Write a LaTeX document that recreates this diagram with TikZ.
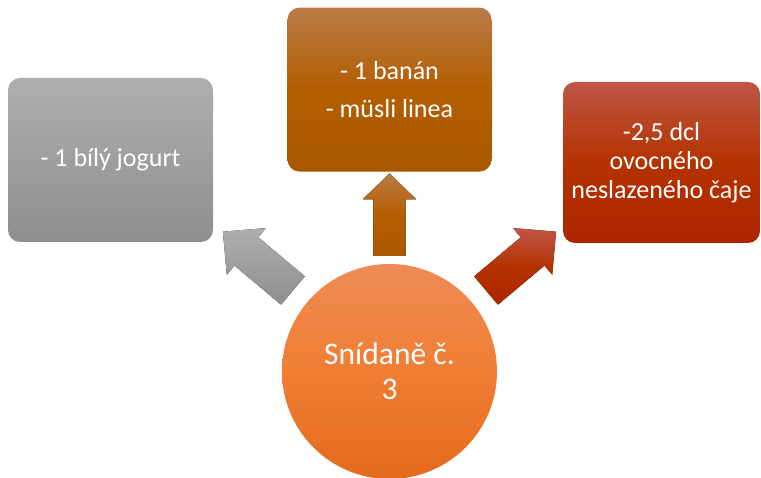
\documentclass[tikz,border=0pt]{standalone}
\usepackage{fontspec}
\setmainfont{Carlito}
\usetikzlibrary{calc,positioning}

\definecolor{gryTop}{HTML}{AFAFAF}
\definecolor{gryBot}{HTML}{8E8E8E}
\definecolor{brnTop}{HTML}{BB7A48}
\definecolor{brnMid}{HTML}{B35E00}
\definecolor{brnBot}{HTML}{A95800}
\definecolor{redTop}{HTML}{BF5646}
\definecolor{redMid}{HTML}{B43200}
\definecolor{redBot}{HTML}{AD2600}
\definecolor{hubTop}{HTML}{EE8B56}
\definecolor{hubMid}{HTML}{F07E34}
\definecolor{hubBot}{HTML}{E46A1C}

% block arrow: style, tail, tip, half shaft, half head, head length
\newcommand\fatarrow[6]{%
	\coordinate (#2#3) at ($(#3)!#6!(#2)$);
	\fill[#1] ($(#2)!#4!90:(#3)$) -- ($(#2#3)!#4!90:(#3)$) -- ($(#2#3)!#5!90:(#3)$) -- (#3)
		-- ($(#2#3)!#5!-90:(#3)$) -- ($(#2#3)!#4!-90:(#3)$) -- ($(#2)!#4!-90:(#3)$) -- cycle;}

\begin{document}
\begin{tikzpicture}[x=1pt, y=1pt,
		box/.style={rectangle, rounded corners=12pt, minimum width=205pt, minimum height=164pt,
			inner sep=2pt, align=center, text=white, font=\fontsize{26}{29}\selectfont},
		gry/.style={top color=gryTop, bottom color=gryBot},
		brn/.style={top color=brnTop, bottom color=brnBot, middle color=brnMid},
		red/.style={top color=redTop, bottom color=redBot, middle color=redMid}]
	
		\useasboundingbox (0,0) rectangle (761,477);
		
		\node[circle, minimum size=215pt, inner sep=0pt, top color=hubTop, bottom color=hubBot,
			middle color=hubMid, text=white, align=center,
			font=\fontsize{31.5}{35}\selectfont] (hub) at (389.5,105.5) {Snídaně č.\\3};
		\node[box, gry] (jog) at (110.5,317) {- 1 bílý jogurt};
		\node[box, brn, minimum width=204pt, above=92pt of hub] (ban) {- 1 banán\\[9pt]- müsli linea};
		\node[box, red, minimum width=197pt, minimum height=161pt] (caj) at (661.5,314.5)
			{-2,5 dcl\\ovocného\\neslazeného čaje};
		
		\coordinate (t1) at ($(hub)+(140:126)$);
		\coordinate (p1) at ($(hub)+(140:217.5)$);
		\coordinate (t2) at ([yshift=8pt]hub.north);
		\coordinate (p2) at ([yshift=-1.5pt]ban.south);
		\coordinate (t3) at ($(hub)+(40:126)$);
		\coordinate (p3) at ($(hub)+(40:217.5)$);
		
		\fatarrow{gry}{t1}{p1}{18.5pt}{30.5pt}{30.7pt}
		\fatarrow{brn}{t2}{p2}{16.2pt}{26.7pt}{26pt}
		\fatarrow{red}{t3}{p3}{18.5pt}{30.5pt}{30.7pt}
		
	\end{tikzpicture}
\end{document}
